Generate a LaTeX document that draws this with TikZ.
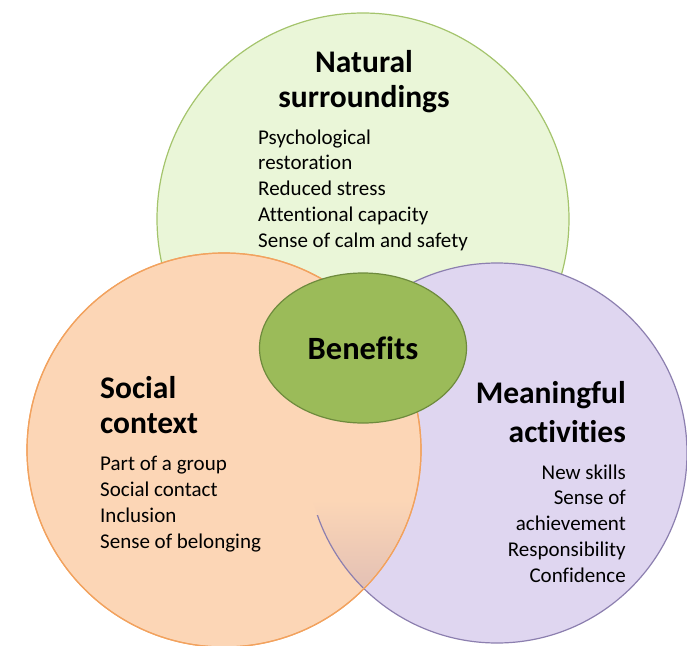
\documentclass[tikz,border=0pt]{standalone}
\usepackage{fontspec}
\setmainfont{Carlito}[Ligatures=NoCommon]
\usepackage{tikz}
\usetikzlibrary{shapes.geometric, positioning}

\definecolor{naturalfill}{HTML}{EAF6D8}
\definecolor{naturalline}{HTML}{A4C46C}
\definecolor{socialfill}{HTML}{FCD6B6}
\definecolor{socialline}{HTML}{F2A25E}
\definecolor{meaningfill}{HTML}{DFD6F0}
\definecolor{meaningline}{HTML}{8C7FAF}
\definecolor{overlapfill}{HTML}{DDBBB4}
\definecolor{benefitfill}{HTML}{9BBB59}
\definecolor{benefitline}{HTML}{6E8B3D}

\tikzset{
  area/.style={
    circle,
    line width=1.2pt,
    inner sep=0pt
  },
  heading/.style={
    font=\fontsize{31.5}{35}\selectfont\bfseries,
    inner sep=0pt
  },
  itemlist/.style={
    font=\fontsize{21}{25.7}\selectfont,
    inner sep=0pt
  }
}

\begin{document}
\begin{tikzpicture}[x=1pt, y=-1pt]
  \useasboundingbox (0,0) rectangle (687,645);

  % The three areas
  \node[area, draw=naturalline, fill=naturalfill, minimum size=412pt] (natural) at (363,219) {};
  \node[area, draw=meaningline, fill=meaningfill, minimum size=380pt] (meaningful) at (497,453) {};
  \node[area, draw=socialline, fill=socialfill, minimum size=394pt] (social) at (224,450) {};

  % Overlap of social and meaningful, only seen in the lower part
  \begin{scope}
    \clip (social.center) circle (196);
    \clip (meaningful.center) circle (190);
    \shade[top color=socialfill, bottom color=overlapfill] (280,500) rectangle (430,610);
  \end{scope}
  \begin{scope}
    \clip (social.center) circle (196);
    \clip (0,515) rectangle (687,645);
    \draw[meaningline, line width=1.2pt] (meaningful.center) circle (190);
  \end{scope}
  \draw[socialline, line width=1.2pt] (social.center) circle (197);

  % Centre
  \node[ellipse, draw=benefitline, fill=benefitfill, line width=1.2pt,
        minimum width=207pt, minimum height=150pt] (benefits) at (363,348) {};
  \node[heading, font=\fontsize{32.5}{35}\selectfont\bfseries, anchor=base] (benefitstext) at (363,359) {Benefits};

  % Natural surroundings
  \node[heading, anchor=base, align=center] (naturalhead) at (364,107) {Natural\\surroundings};
  \node[itemlist, anchor=base west, align=left] (naturallist) at (258,247)
    {Psychological\\restoration\\Reduced stress\\Attentional capacity\\Sense of calm and safety};

  % Social context
  \node[heading, anchor=base west, align=left] (socialhead) at (100,433) {Social\\context};
  \node[itemlist, anchor=base west, align=left] (sociallist) at (100,548)
    {Part of a group\\Social contact\\Inclusion\\Sense of belonging};

  % Meaningful activities
  \node[heading, font=\fontsize{31.5}{39}\selectfont\bfseries, anchor=base east, align=right]
    (meaninghead) at (626,442) {Meaningful\\activities};
  \node[itemlist, anchor=base east, align=right] (meaninglist) at (626,582)
    {New skills\\Sense of\\achievement\\Responsibility\\Confidence};
\end{tikzpicture}
\end{document}
